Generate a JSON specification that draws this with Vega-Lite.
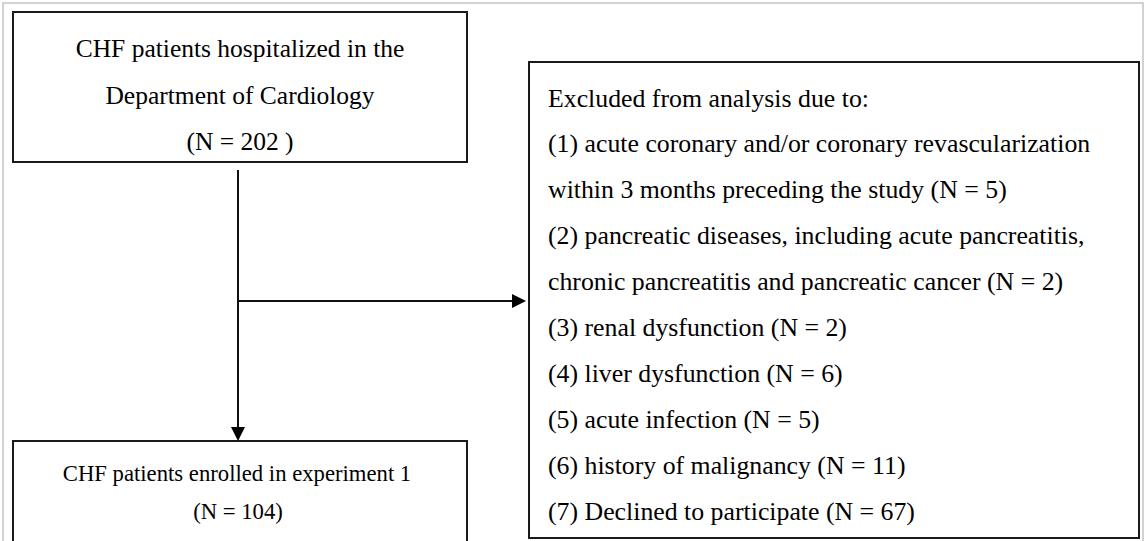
{
  "$schema": "https://vega.github.io/schema/vega-lite/v6.json",
  "width": 1145,
  "height": 541,
  "padding": 0,
  "autosize": {"type": "none"},
  "background": "white",
  "config": {"view": {"stroke": null}},
  "datasets": {
    "frame": [{"x1": 3, "x2": 1143, "y1": 3, "y2": 560}],
    "boxes": [
      {"id": "top", "x1": 13, "x2": 467, "y1": 12, "y2": 162},
      {"id": "bottom", "x1": 13, "x2": 467, "y1": 441, "y2": 570},
      {"id": "right", "x1": 529, "x2": 1139, "y1": 62, "y2": 538}
    ],
    "lines": [
      {"x1": 238, "x2": 238, "y1": 170, "y2": 432},
      {"x1": 238, "x2": 518, "y1": 301, "y2": 301}
    ],
    "arrows": [
      {"dir": "down", "x": 238, "y": 434},
      {"dir": "right", "x": 519, "y": 301}
    ],
    "labels": [
      {"box": "top", "x": 240, "y": 57, "text": "CHF patients hospitalized in the"},
      {"box": "top", "x": 240, "y": 104, "text": "Department of Cardiology"},
      {"box": "top", "x": 240, "y": 150, "text": "(N = 202 )"},
      {"box": "bottom", "x": 237, "y": 481, "text": "CHF patients enrolled in experiment 1"},
      {"box": "bottom", "x": 238, "y": 519, "text": "(N = 104)"},
      {"box": "right", "x": 548, "y": 107, "text": "Excluded from analysis due to:"},
      {"box": "right", "x": 548, "y": 152, "text": "(1) acute coronary and/or coronary revascularization"},
      {"box": "right", "x": 548, "y": 198, "text": "within 3 months preceding the study (N = 5)"},
      {"box": "right", "x": 548, "y": 244, "text": "(2) pancreatic diseases, including  acute pancreatitis,"},
      {"box": "right", "x": 548, "y": 290, "text": "chronic pancreatitis and pancreatic cancer (N = 2)"},
      {"box": "right", "x": 548, "y": 336, "text": "(3) renal dysfunction (N = 2)"},
      {"box": "right", "x": 548, "y": 382, "text": "(4) liver  dysfunction (N = 6)"},
      {"box": "right", "x": 548, "y": 428, "text": "(5) acute infection (N = 5)"},
      {"box": "right", "x": 548, "y": 474, "text": "(6) history of malignancy (N = 11)"},
      {"box": "right", "x": 548, "y": 520, "text": "(7) Declined  to participate (N = 67)"}
    ]
  },
  "layer": [
    {
      "data": {"name": "frame"},
      "mark": {"type": "rect", "fill": null, "stroke": "#c4c4c4", "strokeWidth": 1.5, "clip": true},
      "encoding": {
        "x": {"field": "x1", "type": "quantitative", "scale": {"domain": [0, 1145], "nice": false, "zero": false}, "axis": null},
        "x2": {"field": "x2"},
        "y": {"field": "y1", "type": "quantitative", "scale": {"domain": [0, 541], "nice": false, "zero": false, "reverse": true}, "axis": null},
        "y2": {"field": "y2"}
      }
    },
    {
      "data": {"name": "boxes"},
      "mark": {"type": "rect", "fill": "white", "stroke": "#1a1a1a", "strokeWidth": 2, "clip": true},
      "encoding": {
        "x": {"field": "x1", "type": "quantitative"},
        "x2": {"field": "x2"},
        "y": {"field": "y1", "type": "quantitative"},
        "y2": {"field": "y2"}
      }
    },
    {
      "data": {"name": "lines"},
      "mark": {"type": "rule", "color": "#111111", "strokeWidth": 2},
      "encoding": {
        "x": {"field": "x1", "type": "quantitative"},
        "x2": {"field": "x2"},
        "y": {"field": "y1", "type": "quantitative"},
        "y2": {"field": "y2"}
      }
    },
    {
      "data": {"name": "arrows"},
      "transform": [{"filter": "datum.dir === 'down'"}],
      "mark": {"type": "point", "shape": "M-1,-1L1,-1L0,1Z", "filled": true, "color": "#000000", "opacity": 1, "size": 196},
      "encoding": {
        "x": {"field": "x", "type": "quantitative"},
        "y": {"field": "y", "type": "quantitative"}
      }
    },
    {
      "data": {"name": "arrows"},
      "transform": [{"filter": "datum.dir === 'right'"}],
      "mark": {"type": "point", "shape": "M-1,-1L1,0L-1,1Z", "filled": true, "color": "#000000", "opacity": 1, "size": 196},
      "encoding": {
        "x": {"field": "x", "type": "quantitative"},
        "y": {"field": "y", "type": "quantitative"}
      }
    },
    {
      "data": {"name": "labels"},
      "transform": [{"filter": "datum.box === 'top'"}],
      "mark": {"type": "text", "font": "Liberation Serif", "fontSize": 25.5, "align": "center", "baseline": "alphabetic", "color": "#000000"},
      "encoding": {
        "x": {"field": "x", "type": "quantitative"},
        "y": {"field": "y", "type": "quantitative"},
        "text": {"field": "text"}
      }
    },
    {
      "data": {"name": "labels"},
      "transform": [{"filter": "datum.box === 'bottom'"}],
      "mark": {"type": "text", "font": "Liberation Serif", "fontSize": 22.7, "align": "center", "baseline": "alphabetic", "color": "#000000"},
      "encoding": {
        "x": {"field": "x", "type": "quantitative"},
        "y": {"field": "y", "type": "quantitative"},
        "text": {"field": "text"}
      }
    },
    {
      "data": {"name": "labels"},
      "transform": [{"filter": "datum.box === 'right'"}],
      "mark": {"type": "text", "font": "Liberation Serif", "fontSize": 25.8, "align": "left", "baseline": "alphabetic", "color": "#000000"},
      "encoding": {
        "x": {"field": "x", "type": "quantitative"},
        "y": {"field": "y", "type": "quantitative"},
        "text": {"field": "text"}
      }
    }
  ]
}
